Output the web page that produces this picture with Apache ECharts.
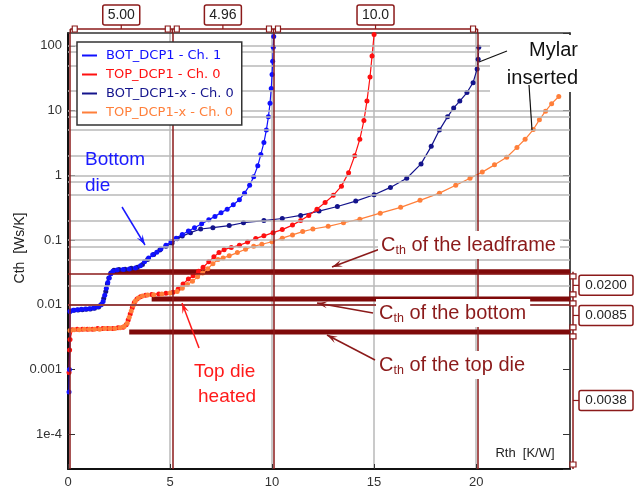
<!DOCTYPE html>
<html>
<head>
<meta charset="utf-8">
<script src="https://cdn.jsdelivr.net/npm/echarts@6/dist/echarts.min.js"></script>
<style>
  html, body { margin: 0; padding: 0; background: #fff; }
  #main { width: 641px; height: 497px; }
</style>
</head>
<body>
<div id="main"></div>
<script>
// Thermal structure functions: cumulative capacitance Cth vs. resistance Rth
const seriesNames = ['BOT_DCP1 - Ch. 1', 'TOP_DCP1 - Ch. 0', 'BOT_DCP1-x - Ch. 0', 'TOP_DCP1-x - Ch. 0'];
const seriesColors = ['#1010ff', '#ff1010', '#14148c', '#ff7f3a'];

// [Rth K/W, Cth Ws/K]
const botDcp1 = [[0.05,0.00045],[0.07,0.001],[0.1,0.0079],[0.25,0.0082],[0.45,0.0084],[0.65,0.0085],[0.85,0.0086],[1.05,0.0087],[1.25,0.0089],[1.45,0.0093],[1.6,0.0099],[1.72,0.0112],[1.8,0.014],[1.88,0.018],[1.95,0.022],[2.02,0.026],[2.1,0.03],[2.2,0.033],[2.4,0.0345],[2.7,0.035],[3.0,0.0357],[3.3,0.037],[3.55,0.04],[3.75,0.046],[3.95,0.053],[4.15,0.059],[4.35,0.065],[4.55,0.073],[4.8,0.083],[5.05,0.095],[5.3,0.107],[5.6,0.122],[5.9,0.138],[6.2,0.155],[6.55,0.178],[6.9,0.205],[7.2,0.232],[7.5,0.265],[7.8,0.3],[8.1,0.35],[8.4,0.42],[8.65,0.53],[8.9,0.7],[9.1,0.95],[9.3,1.4],[9.45,2.1],[9.6,3.2],[9.72,5],[9.82,8],[9.9,13],[9.96,22],[10.0,36],[10.03,58],[10.06,95],[10.08,140]];
const topDcp1 = [[0.05,0.0009],[0.08,0.002],[0.1,0.0029],[0.2,0.0041],[0.45,0.0042],[0.7,0.0042],[0.95,0.0042],[1.2,0.0042],[1.45,0.0043],[1.7,0.0043],[1.95,0.0043],[2.2,0.0043],[2.45,0.0044],[2.7,0.0045],[2.85,0.0049],[2.95,0.0058],[3.05,0.0072],[3.15,0.009],[3.25,0.0108],[3.38,0.0123],[3.55,0.0133],[3.8,0.014],[4.1,0.0144],[4.45,0.0147],[4.8,0.015],[5.15,0.0156],[5.4,0.0175],[5.64,0.021],[5.9,0.025],[6.13,0.028],[6.4,0.033],[6.62,0.038],[6.9,0.046],[7.15,0.055],[7.4,0.064],[7.65,0.071],[8.0,0.077],[8.4,0.083],[8.8,0.093],[9.2,0.106],[9.6,0.116],[10.05,0.13],[10.5,0.145],[11.0,0.17],[11.4,0.2],[11.8,0.24],[12.2,0.3],[12.6,0.38],[13.0,0.49],[13.4,0.68],[13.75,1.1],[14.05,2],[14.3,3.6],[14.5,7],[14.65,14],[14.8,33],[14.9,70],[15.0,150]];
const botDcp1x = [[0.1,0.008],[0.3,0.0082],[0.5,0.0083],[0.7,0.0084],[0.9,0.0085],[1.1,0.0086],[1.3,0.0088],[1.5,0.0092],[1.65,0.0102],[1.75,0.0125],[1.85,0.016],[1.93,0.021],[2.0,0.026],[2.1,0.031],[2.25,0.034],[2.5,0.035],[2.8,0.0355],[3.1,0.0365],[3.4,0.038],[3.65,0.042],[3.9,0.05],[4.2,0.06],[4.5,0.07],[4.8,0.08],[5.1,0.09],[5.35,0.105],[5.6,0.115],[6.0,0.13],[6.5,0.148],[7.1,0.155],[7.9,0.167],[8.6,0.185],[9.6,0.2],[10.5,0.215],[11.4,0.24],[12.3,0.28],[13.2,0.33],[14.1,0.4],[15.0,0.5],[15.8,0.65],[16.6,0.9],[17.3,1.5],[17.8,2.8],[18.2,5],[18.6,8],[18.9,11],[19.2,14],[19.55,19],[19.85,27],[20.05,44],[20.1,62],[20.13,95]];
const topDcp1x = [[0.1,0.004],[0.3,0.0041],[0.55,0.0041],[0.8,0.0042],[1.05,0.0042],[1.3,0.0042],[1.55,0.0042],[1.8,0.0043],[2.05,0.0043],[2.3,0.0043],[2.55,0.0044],[2.75,0.0046],[2.9,0.0052],[3.0,0.0064],[3.1,0.008],[3.2,0.0098],[3.3,0.0114],[3.45,0.0127],[3.65,0.0136],[3.9,0.0141],[4.2,0.0143],[4.6,0.0147],[5.0,0.0152],[5.35,0.016],[5.6,0.018],[5.85,0.0205],[6.1,0.023],[6.35,0.027],[6.6,0.031],[6.85,0.036],[7.1,0.043],[7.35,0.05],[7.6,0.053],[7.9,0.057],[8.3,0.064],[8.7,0.072],[9.1,0.08],[9.5,0.086],[10.0,0.094],[10.5,0.107],[11.0,0.12],[11.5,0.135],[12.0,0.148],[12.75,0.163],[13.5,0.185],[14.3,0.21],[15.3,0.26],[16.3,0.32],[17.25,0.41],[18.2,0.53],[19.0,0.7],[19.7,0.9],[20.3,1.12],[20.9,1.45],[21.5,1.9],[22.0,2.7],[22.4,3.6],[22.8,5.1],[23.1,7.2],[23.4,9.8],[23.7,12.8],[24.05,16.5]];

// Axis ranges and tick labels
const xRange = [0, 24.6];
const yRange = [2.9e-5, 158];
const xTickStep = 5;
const yTickLabels = { '2': '100', '1': '10', '0': '1', '-1': '0.1', '-2': '0.01', '-3': '0.001', '-4': '1e-4' };
const gridMantissas = [1, 2, 5, 8];

// Vertical cursors: first position and the differences shown above the plot
const cursorXStart = 0.11;
const cursorXDeltas = [5.00, 4.96, 10.0];
const cursorXLabels = ['5.00', '4.96', '10.0'];
// Horizontal cursors: differences shown at the right, top to bottom
const cursorYDeltas = [0.0200, 0.0085, 0.0038];
const cursorYLabels = ['0.0200', '0.0085', '0.0038'];
// Where each thick level line begins (Rth)
const levelStartX = [2.2, 4.1, 3.0];

const cursorX = [cursorXStart];
cursorXDeltas.forEach(d => cursorX.push(+(cursorX[cursorX.length - 1] + d).toFixed(3)));
const cursorY = [];
{
  let acc = 0;
  for (let i = cursorYDeltas.length - 1; i >= 0; i--) { acc += cursorYDeltas[i]; cursorY.unshift(+acc.toFixed(5)); }
}

const MAROON = '#8b1a1a';
const MAROON_DARK = '#7f0a0a';
const GRID_GRAY = '#b9b9b9';
const FONT = 'Liberation Sans, Arial, sans-serif';

const gridValues = [];
for (let e = -5; e <= 2; e++) {
  gridMantissas.forEach(m => {
    const v = m * Math.pow(10, e);
    if (v > yRange[0] && v < yRange[1]) gridValues.push(v);
  });
}

const chart = echarts.init(document.getElementById('main'), null, { renderer: 'canvas' });

const curveDefs = [
  { name: seriesNames[2], data: botDcp1x, color: seriesColors[2] },
  { name: seriesNames[1], data: topDcp1, color: seriesColors[1] },
  { name: seriesNames[0], data: botDcp1, color: seriesColors[0] },
  { name: seriesNames[3], data: topDcp1x, color: seriesColors[3] }
];

const series = [];
// background grid lines and cursors
series.push({
  type: 'line', name: '_grid', data: [], silent: true, z: 1,
  markLine: {
    silent: true, symbol: 'none', animation: false,
    label: { show: false },
    lineStyle: { color: GRID_GRAY, width: 1.5, type: 'solid' },
    data: gridValues.map(v => ({ yAxis: v }))
  }
});
series.push({
  type: 'line', name: '_cursors', data: [], silent: true, z: 2,
  markLine: {
    silent: true, symbol: 'none', animation: false,
    label: { show: false },
    lineStyle: { color: MAROON, width: 1.5, type: 'solid' },
    data: cursorX.map(v => ({ xAxis: v })).concat(cursorY.map(v => ({ yAxis: v })))
  }
});
cursorY.forEach((v, i) => {
  series.push({
    type: 'line', name: '_level' + i, silent: true, z: 2,
    data: [[levelStartX[i], v], [xRange[1], v]],
    symbol: 'none', lineStyle: { color: MAROON_DARK, width: 5 }
  });
});
curveDefs.forEach(d => {
  series.push({
    type: 'line', name: d.name, data: d.data, z: 3,
    symbol: 'circle', symbolSize: 5, showSymbol: true,
    itemStyle: { color: d.color },
    lineStyle: { color: d.color, width: 1.2 }
  });
});

const labelFmt = v => {
  const e = Math.log10(v);
  const r = Math.round(e);
  if (Math.abs(e - r) > 1e-6) return '';
  return yTickLabels[String(r)] || '';
};

chart.setOption({
  animation: false,
  backgroundColor: '#fff',
  grid: { left: 68, right: 71, top: 33, bottom: 28, containLabel: false },
  legend: {
    data: seriesNames.map((n, i) => ({ name: n, textStyle: { color: seriesColors[i] } })),
    orient: 'vertical', left: 77, top: 42,
    icon: 'rect', itemWidth: 15, itemHeight: 2, itemGap: 6,
    backgroundColor: '#fff', borderColor: '#333', borderWidth: 1.5, borderRadius: 0,
    padding: [7, 8, 6, 5],
    selectedMode: false,
    textStyle: { fontFamily: 'DejaVu Sans', fontSize: 13, padding: [0, 0, 0, 4] },
    z: 10
  },
  xAxis: [{
    type: 'value', min: xRange[0], max: xRange[1], interval: xTickStep,
    axisLine: { show: true, onZero: false, lineStyle: { color: '#111', width: 2 } },
    axisTick: { show: true, inside: true, length: 5, lineStyle: { color: '#333' } },
    axisLabel: { color: '#333', fontFamily: FONT, fontSize: 13, margin: 7, showMaxLabel: false },
    splitLine: { show: true, lineStyle: { color: GRID_GRAY, width: 1.5 } }
  }, {
    type: 'value', position: 'top', min: xRange[0], max: xRange[1],
    axisLine: { show: true, onZero: false, lineStyle: { color: '#333', width: 1.5 } },
    axisTick: { show: false }, axisLabel: { show: false }, splitLine: { show: false }
  }],
  yAxis: [{
    type: 'log', logBase: 10, min: yRange[0], max: yRange[1], splitNumber: 7,
    axisLine: { show: true, onZero: false, lineStyle: { color: '#111', width: 2 } },
    axisTick: { show: true, inside: true, length: 7, lineStyle: { color: '#333' } },
    axisLabel: { color: '#333', fontFamily: FONT, fontSize: 13, margin: 6, formatter: labelFmt, showMinLabel: false, showMaxLabel: false },
    splitLine: { show: false }
  }, {
    type: 'log', logBase: 10, position: 'right', min: yRange[0], max: yRange[1], splitNumber: 7,
    axisLine: { show: true, onZero: false, lineStyle: { color: '#222', width: 1.5 } },
    axisTick: { show: true, inside: true, length: 7, lineStyle: { color: '#333' } },
    axisLabel: { show: false }, splitLine: { show: false }
  }],
  series: series
});

// Overlay: cursor brackets, delta labels and annotations
const P = (x, y) => chart.convertToPixel({ xAxisIndex: 0, yAxisIndex: 0 }, [x, y]);
const g = [];
const line = (x1, y1, x2, y2, color, w, z) => g.push({ type: 'line', z: z || 50, silent: true, shape: { x1, y1, x2, y2 }, style: { stroke: color, lineWidth: w } });
const rect = (x, y, w, h, opt) => g.push(Object.assign({ type: 'rect', z: 50, silent: true, shape: { x, y, width: w, height: h, r: (opt && opt.r) || 0 } }, { style: Object.assign({ fill: '#fff', stroke: MAROON, lineWidth: 1.2 }, (opt && opt.style) || {}) }));
const text = (x, y, str, st) => g.push({ type: 'text', z: 60, silent: true, x, y, style: Object.assign({ text: str, fontFamily: FONT, fontSize: 13, fill: '#222' }, st) });
const arrow = (x1, y1, x2, y2, color) => {
  line(x1, y1, x2, y2, color, 1.5, 55);
  const a = Math.atan2(y2 - y1, x2 - x1), L = 11, s = 0.32;
  const p1 = [x2 - L * Math.cos(a - s), y2 - L * Math.sin(a - s)];
  const p2 = [x2 - L * Math.cos(a + s), y2 - L * Math.sin(a + s)];
  const pm = [x2 - L * 0.55 * Math.cos(a), y2 - L * 0.55 * Math.sin(a)];
  g.push({ type: 'polygon', z: 55, silent: true, shape: { points: [[x2, y2], p1, pm, p2] }, style: { fill: color } });
};

const topY = P(0, yRange[1])[1];
const botY = P(0, yRange[0])[1];
const rightX = P(xRange[1], 1)[0];

// top bracket
const bY = topY - 4;
const cxs = cursorX.map(v => P(v, 1)[0]);
line(cxs[0], bY, cxs[cxs.length - 1], bY, MAROON, 1.5);
cxs.forEach((cx, i) => {
  line(cx, bY, cx, topY, MAROON, 1.5);
  if (i > 0) rect(cx - 7, bY - 3, 5, 6);
  if (i < cxs.length - 1) rect(cx + 2, bY - 3, 5, 6);
});
cursorXLabels.forEach((lab, i) => {
  const mx = (cxs[i] + cxs[i + 1]) / 2;
  line(mx, bY - 4, mx, bY, MAROON, 1.2);
  rect(mx - 18.5, 5, 37, 20, { r: 2, style: { lineWidth: 1.5 } });
  text(mx, 15, lab, { align: 'center', verticalAlign: 'middle', fontSize: 14, fill: '#222' });
});

// right bracket
const rX = rightX + 3;
const cys = cursorY.map(v => P(1, v)[1]).concat([botY]);
line(rX, cys[0], rX, cys[cys.length - 1], MAROON, 1.5);
cys.forEach((cy, i) => {
  if (i > 0) rect(rX - 3, cy - 7, 6, 5);
  if (i < cys.length - 1) rect(rX - 3, cy + 2, 6, 5);
});
cursorYLabels.forEach((lab, i) => {
  const my = (cys[i] + cys[i + 1]) / 2;
  line(rX, my, rX + 6, my, MAROON, 1.2);
  rect(rX + 6, my - 10, 54, 20, { r: 2, style: { lineWidth: 1.5 } });
  text(rX + 33, my, lab, { align: 'center', verticalAlign: 'middle', fontSize: 13.5, fill: '#222' });
});

// axis titles
text(20, 248, 'Cth  [Ws/K]', { align: 'center', verticalAlign: 'middle', fontSize: 14, fill: '#222' });
g[g.length - 1].rotation = Math.PI / 2;
text(525, 453, 'Rth  [K/W]', { align: 'center', verticalAlign: 'middle', fontSize: 13, fill: '#222', backgroundColor: '#fff', padding: [1, 3] });

// annotations
const MAROON_TXT = '#8b1a1a';
const cth = (x, y, rest) => {
  g.push({
    type: 'text', z: 60, silent: true, x, y,
    style: {
      text: '{c|C}{s|th}{t|' + rest + '}',
      verticalAlign: 'middle',
      backgroundColor: '#fff', padding: [2, 4, 2, 3],
      rich: {
        c: { fontFamily: FONT, fontSize: 20, fill: MAROON_TXT, lineHeight: 24, verticalAlign: 'middle' },
        s: { fontFamily: FONT, fontSize: 12.5, fill: MAROON_TXT, lineHeight: 24, verticalAlign: 'bottom' },
        t: { fontFamily: FONT, fontSize: 20, fill: MAROON_TXT, lineHeight: 24, verticalAlign: 'middle' }
      }
    }
  });
};
cth(378, 245, ' of the leadframe');
cth(376, 313, ' of the bottom');
cth(376, 365, ' of the top die');
arrow(380, 249, 332, 267, MAROON_TXT);
arrow(373, 313, 317, 303, MAROON_TXT);
arrow(375, 360, 327, 335, MAROON_TXT);

text(85, 160, 'Bottom', { fontSize: 19, fill: '#1a1aff', verticalAlign: 'middle' });
text(85, 186, 'die', { fontSize: 19, fill: '#1a1aff', verticalAlign: 'middle' });
arrow(122, 207, 145, 245, '#1a1aff');

text(192, 372, 'Top die', { fontSize: 19, fill: '#ff1a1a', verticalAlign: 'middle', backgroundColor: '#fff', padding: [1, 2] });
text(196, 397, 'heated', { fontSize: 19, fill: '#ff1a1a', verticalAlign: 'middle', backgroundColor: '#fff', padding: [1, 2] });
arrow(199, 348, 182, 303, '#ff1a1a');

rect(490, 35, 100, 57, { style: { stroke: null, lineWidth: 0, fill: '#fff' } });
text(578, 50, 'Mylar', { fontSize: 20, fill: '#111', align: 'right', verticalAlign: 'middle' });
text(578, 78, 'inserted', { fontSize: 20, fill: '#111', align: 'right', verticalAlign: 'middle' });
line(507, 51, 479, 62, '#111', 1.2, 61);
line(529, 85, 532, 130, '#111', 1.2, 61);

chart.setOption({ graphic: { elements: g } });
</script>
</body>
</html>
